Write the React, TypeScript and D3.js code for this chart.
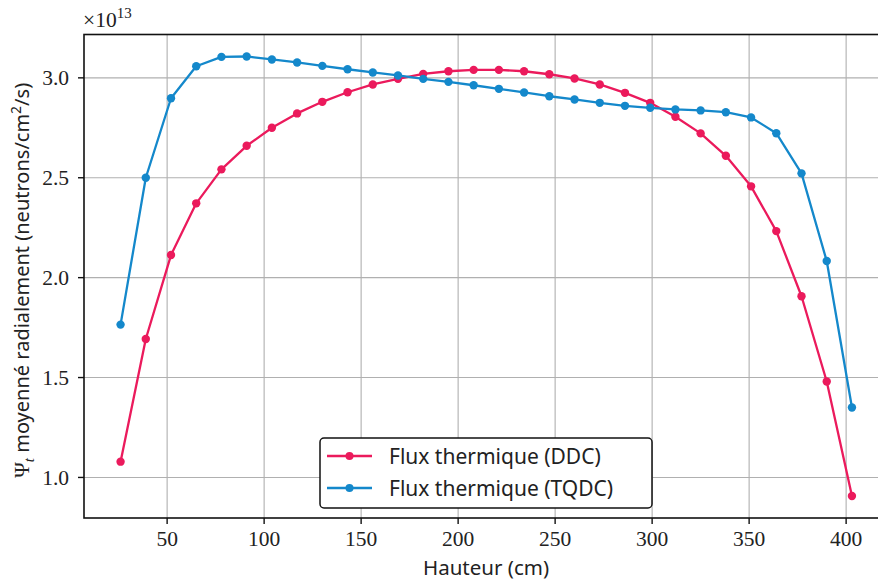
import React from "react";
import * as d3 from "d3";

const heights: number[] = [26, 39, 52, 65, 78, 91, 104, 117, 130, 143, 156, 169, 182, 195, 208, 221, 234, 247, 260, 273, 286, 299, 312, 325, 338, 351, 364, 377, 390, 403];
const ddc: number[] = [1.079, 1.693, 2.113, 2.372, 2.542, 2.66, 2.75, 2.822, 2.88, 2.928, 2.967, 2.995, 3.02, 3.033, 3.04, 3.04, 3.033, 3.018, 2.997, 2.967, 2.925, 2.875, 2.805, 2.722, 2.61, 2.457, 2.233, 1.907, 1.48, 0.907];
const tqdc: number[] = [1.765, 2.5, 2.898, 3.058, 3.105, 3.107, 3.092, 3.077, 3.06, 3.043, 3.027, 3.012, 2.995, 2.98, 2.963, 2.945, 2.927, 2.908, 2.892, 2.875, 2.86, 2.85, 2.842, 2.837, 2.828, 2.802, 2.723, 2.522, 2.083, 1.35];
const xTicks: number[] = [50, 100, 150, 200, 250, 300, 350, 400];
const yTicks: number[] = [1.0, 1.5, 2.0, 2.5, 3.0];
const seriesNames: string[] = ["Flux thermique (DDC)", "Flux thermique (TQDC)"];
const seriesColors: string[] = ["#EB1A5C", "#1488CB"];

export default function App() {
  const W = 878, H = 581;
  const left = 84, top = 34.5, bottom = 518;
  const xmin = d3.min(heights)!, xmax = d3.max(heights)!;
  const xm = (xmax - xmin) * 0.05;
  const pxPerUnit = 1.94;
  const x = d3.scaleLinear().domain([xmin - xm, xmax + xm]).range([left, left + (xmax - xmin + 2 * xm) * pxPerUnit]);
  const all = [...ddc, ...tqdc];
  const ymin = d3.min(all)!, ymax = d3.max(all)!;
  const ym = (ymax - ymin) * 0.05;
  const y = d3.scaleLinear().domain([ymin - ym, ymax + ym]).range([bottom, top]);
  const right = x.range()[1];
  const line = d3.line<number>().x((_, i) => x(heights[i])).y((d) => y(d));
  const series = [ddc, tqdc];
  const serif = "'Liberation Serif', 'DejaVu Serif', serif";
  const sans = "'Noto Sans', 'Open Sans', sans-serif";
  const lgX = 320, lgY = 438, lgW = 332, lgH = 70;
  return (
    <svg width={W} height={H} style={{ position: "fixed", left: 0, top: 0, background: "#fff" }}>
      <rect x={0} y={0} width={W} height={H} fill="#fff" />
      <defs>
        <clipPath id="plot">
          <rect x={left} y={top} width={right - left} height={bottom - top} />
        </clipPath>
      </defs>
      {xTicks.map((t) => (
        <line key={"gx" + t} x1={x(t)} x2={x(t)} y1={top} y2={bottom} stroke="#b0b0b0" strokeWidth={1.1} />
      ))}
      {yTicks.map((t) => (
        <line key={"gy" + t} x1={left} x2={right} y1={y(t)} y2={y(t)} stroke="#b0b0b0" strokeWidth={1.1} />
      ))}
      <g clipPath="url(#plot)">
        {series.map((s, k) => (
          <g key={"s" + k}>
            <path d={line(s)!} fill="none" stroke={seriesColors[k]} strokeWidth={2.3} strokeLinejoin="round" />
            {s.map((v, i) => (
              <circle key={i} cx={x(heights[i])} cy={y(v)} r={4.2} fill={seriesColors[k]} />
            ))}
          </g>
        ))}
      </g>
      <rect x={left} y={top} width={right - left} height={bottom - top} fill="none" stroke="#111" strokeWidth={1.6} />
      {xTicks.map((t) => (
        <g key={"xt" + t}>
          <line x1={x(t)} x2={x(t)} y1={bottom} y2={bottom + 6} stroke="#111" strokeWidth={1.4} />
          <text x={x(t)} y={bottom + 28} textAnchor="middle" fontFamily={serif} fontSize={21.5} fill="#222">{t}</text>
        </g>
      ))}
      {yTicks.map((t) => (
        <g key={"yt" + t}>
          <line x1={left - 6} x2={left} y1={y(t)} y2={y(t)} stroke="#111" strokeWidth={1.4} />
          <text x={left - 15} y={y(t) + 7.5} textAnchor="end" fontFamily={serif} fontSize={21.5} fill="#222">{t.toFixed(1)}</text>
        </g>
      ))}
      <text x={83} y={27} fontFamily={serif} fontSize={21.5} fill="#222">
        ×10<tspan dy={-9} fontSize={15}>13</tspan>
      </text>
      <text x={486} y={575} textAnchor="middle" fontFamily={sans} fontSize={20.5} fill="#222">Hauteur (cm)</text>
      <text transform={`translate(29, ${(top + bottom) / 2 + 4}) rotate(-90)`} textAnchor="middle" fontFamily={sans} fontSize={20} fill="#222">
        <tspan fontFamily={serif} fontSize={21}>Ψ</tspan>
        <tspan fontFamily={serif} fontStyle="italic" fontSize={15} dy={5}>t</tspan>
        <tspan dy={-5}> moyenné radialement (neutrons/cm</tspan>
        <tspan fontSize={14} dy={-8}>2</tspan>
        <tspan dy={8}>/s)</tspan>
      </text>
      <rect x={lgX} y={lgY} width={lgW} height={lgH} rx={4} fill="#fff" stroke="#111" strokeWidth={1.5} />
      {seriesNames.map((n, k) => (
        <g key={"lg" + k}>
          <line x1={lgX + 7} x2={lgX + 52} y1={lgY + 18 + k * 32} y2={lgY + 18 + k * 32} stroke={seriesColors[k]} strokeWidth={2.3} />
          <circle cx={lgX + 29.5} cy={lgY + 18 + k * 32} r={4} fill={seriesColors[k]} />
          <text x={lgX + 69} y={lgY + 25.5 + k * 32} fontFamily={sans} fontSize={21} fill="#222">{n}</text>
        </g>
      ))}
    </svg>
  );
}
